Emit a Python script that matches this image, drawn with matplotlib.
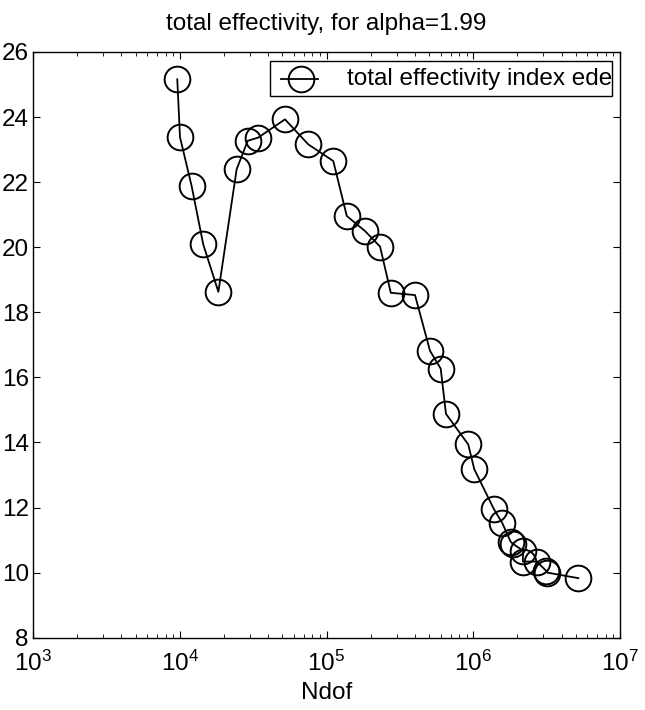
import matplotlib
matplotlib.use('Agg')
import matplotlib.pyplot as plt
from matplotlib.patches import Rectangle
from matplotlib.lines import Line2D

plt.rcParams['font.family'] = ['Liberation Sans', 'DejaVu Sans']
plt.rcParams['mathtext.fontset'] = 'custom'
plt.rcParams['mathtext.rm'] = 'Liberation Sans'
plt.rcParams['mathtext.it'] = 'Liberation Sans'

# Ndof / effectivity
ndof = [9620, 10040, 12050, 14450, 18330, 24430, 29040, 34260, 52120, 75150,
        111200, 137500, 182800, 231700, 274200, 401000, 507000, 600000, 651800,
        924500, 1016000, 1383000, 1578000, 1799000, 1857000, 2193000, 2173000,
        2705000, 3133000, 3198000, 5200000]
eff = [25.16, 23.38, 21.88, 20.09, 18.63, 22.40, 23.27, 23.37, 23.93, 23.16,
       22.65, 20.96, 20.50, 20.02, 18.60, 18.53, 16.82, 16.27, 14.88,
       13.94, 13.18, 11.95, 11.52, 10.95, 10.89, 10.67, 10.34,
       10.34, 10.06, 10.00, 9.83]
label = 'total effectivity index ede'

fig = plt.figure(figsize=(6.45, 7.1), dpi=100)
W, H = 587, 585.7
ax = fig.add_axes([33/645, 1 - 637.7/710, W/645, H/710])

ax.semilogx(ndof, eff, '-o', color='black', lw=1.3, ms=18.5,
            mfc='none', mec='black', mew=1.4)
ax.set_xlim(1e3, 1e7)
ax.set_ylim(8, 26)
ax.set_yticks(range(8, 27, 2))
ax.tick_params(which='both', direction='in', top=True, right=True, labelsize=17.5)
ax.tick_params(axis='x', pad=9)
ax.tick_params(axis='y', pad=3)
ax.tick_params(which='major', length=5)
ax.tick_params(which='minor', length=3)
for s in ax.spines.values():
    s.set_linewidth(1.0)
ax.set_xlabel('Ndof', fontsize=17.5, labelpad=5)
ax.set_title('total effectivity, for alpha=1.99', fontsize=17.5, pad=16)

# legend drawn by hand, the text runs past the box as in the original
ax.add_patch(Rectangle((237/W, 1 - 43.7/H), 342/W, 35/H,
                       transform=ax.transAxes, fill=False, lw=1.0, ec='black'))
ax.add_line(Line2D([248/W, 285/W], [1 - 26.7/H] * 2, transform=ax.transAxes,
                   color='black', lw=1.3))
ax.add_line(Line2D([268/W], [1 - 26.7/H], transform=ax.transAxes,
                   marker='o', ms=18.5, mfc='none', mec='black', mew=1.4))
ax.text(314/W, 1 - 26.7/H, label, transform=ax.transAxes,
        fontsize=17.5, va='center', ha='left', clip_on=False)

fig.savefig('out.png', dpi=100)
